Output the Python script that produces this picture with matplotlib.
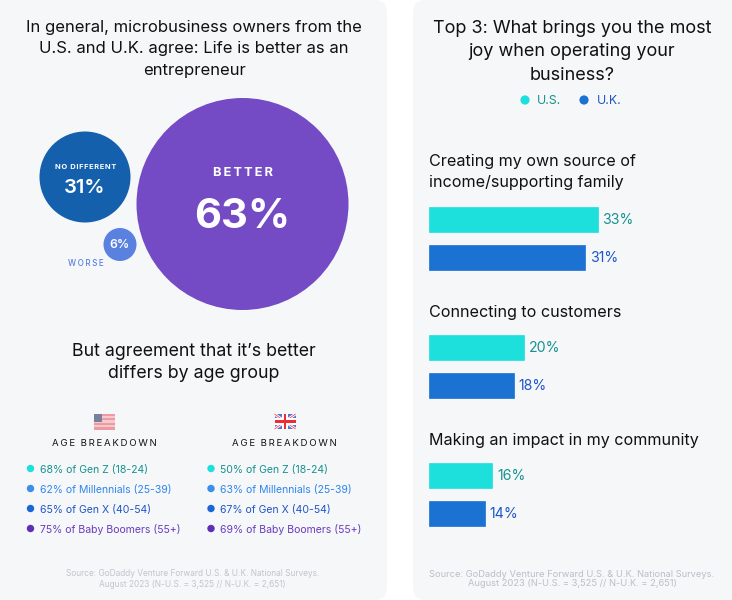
import numpy as np
import matplotlib
matplotlib.use("Agg")
import matplotlib.pyplot as plt
from matplotlib.patches import Circle, FancyBboxPatch, Rectangle

plt.rcParams['font.family'] = ['Inter', 'DejaVu Sans']

# ---- data ----
left_title = "In general, microbusiness owners from the\nU.S. and U.K. agree: Life is better as an\nentrepreneur"
sub_title = "But agreement that it\u2019s better\ndiffers by age group"
right_title = "Top 3: What brings you the most\njoy when operating your\nbusiness?"
source = "Source: GoDaddy Venture Forward U.S. & U.K. National Surveys.\nAugust 2023 (N-U.S. = 3,525 // N-U.K. = 2,651)"
sentiment_labels = ["BETTER", "NO DIFFERENT", "WORSE"]
sentiment_values = [63, 31, 6]
generations = ["Gen Z (18-24)", "Millennials (25-39)", "Gen X (40-54)", "Baby Boomers (55+)"]
us_ages = [68, 62, 65, 75]
uk_ages = [50, 63, 67, 69]
joy_labels = ["Creating my own source of\nincome/supporting family", "Connecting to customers", "Making an impact in my community"]
joy_us = [33, 20, 16]
joy_uk = [31, 18, 14]

# ---- style ----
CARD = "#f5f7f9"; INK = "#111111"
TEAL = "#1de0dc"; TEAL_T = "#17918f"
UKBLUE = "#1b72d3"; UKBLUE_T = "#1f55c8"
age_dot = ["#1de0dc", "#3b8eea", "#1b66d6", "#5f2fb8"]
age_txt = ["#17918f", "#2f86ee", "#1f55c8", "#6a3dc0"]

def track(s, n=1):
    return ("\u200a" * n).join(s)

fig = plt.figure(figsize=(7.32, 6.0), dpi=100, facecolor="white")
ax = fig.add_axes([0, 0, 1, 1])
ax.set_xlim(0, 732); ax.set_ylim(600, 0); ax.axis("off")

for x0, x1 in [(-20, 387), (413, 752)]:
    ax.add_patch(FancyBboxPatch((x0, 0), x1 - x0, 600, boxstyle="round,pad=0,rounding_size=13",
                                fc=CARD, ec="none", zorder=0))

ax.text(194, 49, left_title, ha="center", va="center", fontsize=12.0, color=INK, linespacing=1.52)
ax.text(194, 362.5, sub_title, ha="center", va="center", fontsize=12.8, color=INK, linespacing=1.42)
ax.text(572, 52, right_title, ha="center", va="center", fontsize=13.0, color=INK, linespacing=1.48)

# bubbles
bubbles = [(242.5, 204, 106, "#744bc4"), (85, 177, 45.5, "#1560ad"), (120, 244.5, 16.5, "#5a80e0")]
for cx, cy, r, c in bubbles:
    ax.add_patch(Circle((cx, cy), r, fc=c, ec="none", zorder=2))
ax.text(243, 173.5, track(sentiment_labels[0], 2), ha="center", va="center", fontsize=9.3, color="white", fontweight="bold", zorder=3)
ax.text(242.5, 216.5, f"{sentiment_values[0]}%", ha="center", va="center", fontsize=30, color="white", fontweight="bold", zorder=3)
ax.text(86, 167, track(sentiment_labels[1]), ha="center", va="center", fontsize=5.4, color="white", fontweight="bold", zorder=3)
ax.text(84.5, 188, f"{sentiment_values[1]}%", ha="center", va="center", fontsize=14.5, color="white", fontweight="semibold", zorder=3)
ax.text(120, 245.5, f"{sentiment_values[2]}%", ha="center", va="center", fontsize=8.8, color="white", fontweight="semibold", zorder=3)
ax.text(86, 264, track(sentiment_labels[2], 2), ha="center", va="center", fontsize=5.8, color="#5a80e0", fontweight="medium", zorder=3)

# flags
def us_flag(x, y, w=21, h=16):
    ax.add_patch(Rectangle((x, y), w, h, fc="#f6c9cc", ec="none", zorder=2))
    for i in range(0, 7, 2):
        ax.add_patch(Rectangle((x, y + i * h / 7), w, h / 7, fc="#ee9aa2", ec="none", zorder=2))
    ax.add_patch(Rectangle((x, y), w * 0.42, h * 0.52, fc="#7a7f9f", ec="none", zorder=3))

def uk_flag(x, y, w=21, h=15):
    ax.add_patch(Rectangle((x, y), w, h, fc="#5b74c8", ec="none", zorder=2))
    ax.plot([x, x + w], [y, y + h], color="white", lw=2.0, solid_capstyle="butt", zorder=3)
    ax.plot([x, x + w], [y + h, y], color="white", lw=2.0, solid_capstyle="butt", zorder=3)
    ax.plot([x, x + w], [y, y + h], color="#f0606a", lw=0.7, solid_capstyle="butt", zorder=3)
    ax.plot([x, x + w], [y + h, y], color="#f0606a", lw=0.7, solid_capstyle="butt", zorder=3)
    ax.add_patch(Rectangle((x + w / 2 - 3.2, y), 6.4, h, fc="white", ec="none", zorder=4))
    ax.add_patch(Rectangle((x, y + h / 2 - 3.2), w, 6.4, fc="white", ec="none", zorder=4))
    ax.add_patch(Rectangle((x + w / 2 - 1.3, y), 2.6, h, fc="#ee2b36", ec="none", zorder=5))
    ax.add_patch(Rectangle((x, y + h / 2 - 1.3), w, 2.6, fc="#ee2b36", ec="none", zorder=5))

us_flag(93.5, 413.5)
uk_flag(274.5, 414)

for x0, vals, cx in [(30.5, us_ages, 104), (211, uk_ages, 284.5)]:
    ax.text(cx, 443.5, track("AGE BREAKDOWN", 2).replace("\u200a\u200a \u200a\u200a", "  "), ha="center", va="center", fontsize=6.9, color=INK)
    for i, (g, v) in enumerate(zip(generations, vals)):
        y = 468.5 + 20 * i
        ax.add_patch(Circle((x0, y), 3.7, fc=age_dot[i], ec="none", zorder=2))
        ax.text(x0 + 9.5, y + 1, f"{v}% of {g}", ha="left", va="center", fontsize=7.55, color=age_txt[i])

ax.text(192.5, 579, source, ha="center", va="center", fontsize=6.0, color="#c0c6cb", linespacing=1.3)
ax.text(572, 579, source, ha="center", va="center", fontsize=6.68, color="#b9c0c6", linespacing=1.1)

# legend
ax.add_patch(Circle((525, 100), 4.6, fc=TEAL, ec="none"))
ax.text(537, 101, "U.S.", ha="left", va="center", fontsize=8.8, color=TEAL_T)
ax.add_patch(Circle((584, 100), 4.6, fc=UKBLUE, ec="none"))
ax.text(596.5, 101, "U.K.", ha="left", va="center", fontsize=8.8, color=UKBLUE_T)

# bars: the source's bar lengths are not proportional, so the x axis follows them
knots_v = [0, 14, 16, 18, 20, 31, 33, 40]
knots_p = [0, 55.5, 63, 84.5, 94.5, 156, 168.5, 204]
bx = fig.add_axes([429 / 732, 0, 204 / 732, 1])
bx.patch.set_alpha(0); bx.axis("off")
bx.set_xscale("function", functions=(lambda v: np.interp(v, knots_v, knots_p),
                                     lambda p: np.interp(p, knots_p, knots_v)))
bx.set_xlim(0, 40); bx.set_ylim(600, 0)
ys_us = 219.5 + 128 * np.arange(3)
ys_uk = ys_us + 38
bx.barh(ys_us, joy_us, height=25, color=TEAL, edgecolor=TEAL, linewidth=0.5, joinstyle="round")
bx.barh(ys_uk, joy_uk, height=25, color=UKBLUE, edgecolor=UKBLUE, linewidth=0.5, joinstyle="round")
for y, v in zip(ys_us, joy_us):
    bx.annotate(f"{v}%", (v, y), xytext=(3.6, 0), textcoords="offset points", ha="left", va="center", fontsize=10.2, color=TEAL_T)
for y, v in zip(ys_uk, joy_uk):
    bx.annotate(f"{v}%", (v, y), xytext=(3.6, 0), textcoords="offset points", ha="left", va="center", fontsize=10.2, color=UKBLUE_T)

ax.text(429, 172, joy_labels[0], ha="left", va="center", fontsize=11.6, color=INK, linespacing=1.5)
ax.text(429, 313, joy_labels[1], ha="left", va="center", fontsize=11.6, color=INK)
ax.text(429, 441, joy_labels[2], ha="left", va="center", fontsize=11.6, color=INK)

fig.savefig("out.png", dpi=100, facecolor="white")
